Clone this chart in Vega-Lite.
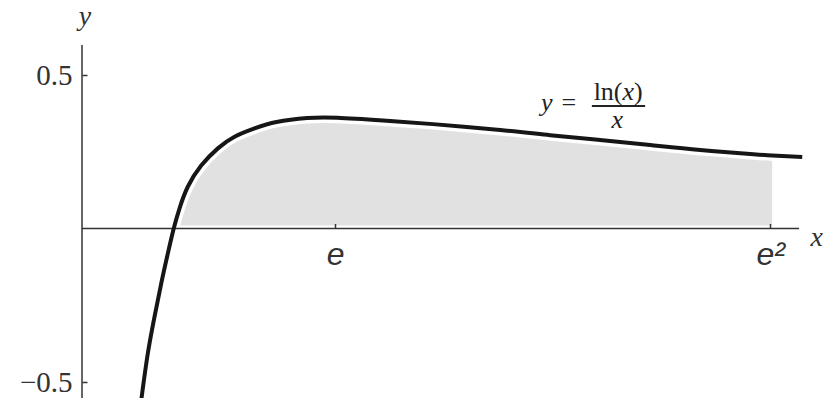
{
  "$schema": "https://vega.github.io/schema/vega-lite/v6.json",
  "width": 745,
  "height": 398,
  "autosize": {"type": "none"},
  "padding": {"left": 82, "top": 0, "right": 0, "bottom": 0},
  "background": "white",
  "config": {"view": {"stroke": null}, "axis": {"grid": false}},
  "datasets": {
    "curve": [
      {"x": 0.639, "y": -0.553},
      {"x": 0.707, "y": -0.4065},
      {"x": 0.779, "y": -0.287},
      {"x": 0.851, "y": -0.1785},
      {"x": 0.922, "y": -0.081},
      {"x": 0.985, "y": 0.0},
      {"x": 1.05, "y": 0.068},
      {"x": 1.136, "y": 0.136},
      {"x": 1.28, "y": 0.205},
      {"x": 1.459, "y": 0.261},
      {"x": 1.638, "y": 0.299},
      {"x": 1.853, "y": 0.326},
      {"x": 2.089, "y": 0.347},
      {"x": 2.417, "y": 0.36},
      {"x": 2.739, "y": 0.361},
      {"x": 3.233, "y": 0.352},
      {"x": 3.77, "y": 0.34},
      {"x": 4.49, "y": 0.321},
      {"x": 5.027, "y": 0.304},
      {"x": 5.564, "y": 0.288},
      {"x": 6.101, "y": 0.272},
      {"x": 6.638, "y": 0.256},
      {"x": 7.175, "y": 0.243},
      {"x": 7.411, "y": 0.238},
      {"x": 7.734, "y": 0.233}
    ],
    "axes": [
      {"x": 0, "x2": 0, "y": -0.56, "y2": 0.598},
      {"x": 0, "x2": 7.7, "y": 0, "y2": 0}
    ],
    "bar": [{"x": 5.475, "x2": 6.047, "y": 0.399}],
    "upright": [
      {"x": 5.494, "y": 0.4186, "text": "ln("},
      {"x": 5.928, "y": 0.4186, "text": ")"},
      {"x": 5.15, "y": 0.3827, "text": "="}
    ],
    "italic": [
      {"x": 4.93, "y": 0.3827, "text": "y"},
      {"x": 5.687, "y": 0.3264, "text": "x"},
      {"x": 5.805, "y": 0.4186, "text": "x"}
    ],
    "axislabels": [
      {"x": 0.0322, "y": 0.664, "text": "y"},
      {"x": 7.89, "y": -0.057, "text": "x"}
    ]
  },
  "encoding": {
    "x": {
      "field": "x", "type": "quantitative",
      "scale": {"domain": [0, 8], "nice": false, "zero": false},
      "axis": {
        "values": [2.71828, 7.38906],
        "labelExpr": "datum.value < 5 ? 'e' : 'e²'",
        "orient": "bottom", "offset": -169.5, "domain": false, "grid": false,
        "tickSize": -5, "tickWidth": 1.5, "tickColor": "#333",
        "labelPadding": 41, "labelBaseline": "alphabetic",
        "labelFont": "Liberation Sans", "labelFontStyle": "italic", "labelFontSize": 32,
        "labelColor": "#333", "labelFlush": false, "labelOverlap": false,
        "title": null, "zindex": 1
      }
    },
    "y": {
      "field": "y", "type": "quantitative",
      "scale": {"domain": [-0.5521, 0.7443], "nice": false, "zero": false},
      "axis": {
        "values": [-0.5, 0.5],
        "labelExpr": "datum.value > 0 ? '0.5' : '−0.5'",
        "domain": false, "grid": false,
        "tickSize": -5, "tickWidth": 1.5, "tickColor": "#333",
        "labelPadding": 15, "labelBaseline": "middle",
        "labelFont": "Liberation Serif", "labelFontSize": 29,
        "labelColor": "#333", "labelFlush": false, "labelOverlap": false,
        "title": null, "zindex": 1
      }
    }
  },
  "layer": [
    {
      "data": {"name": "curve"},
      "transform": [{"filter": "datum.x >= 0.97 && datum.x <= 7.42"}],
      "mark": {"type": "area", "color": "#e1e1e1", "interpolate": "natural"},
      "encoding": {"y2": {"datum": 0.01}}
    },
    {
      "data": {"name": "curve"},
      "mark": {"type": "line", "color": "white", "strokeWidth": 11, "interpolate": "natural"},
      "encoding": {}
    },
    {
      "data": {"name": "axes"},
      "mark": {"type": "rule", "color": "#333", "strokeWidth": 1.5},
      "encoding": {"x2": {"field": "x2"}, "y2": {"field": "y2"}}
    },
    {
      "data": {"name": "curve"},
      "mark": {"type": "line", "color": "#161616", "strokeWidth": 4, "interpolate": "natural"},
      "encoding": {}
    },
    {
      "data": {"name": "bar"},
      "mark": {"type": "rule", "color": "#222", "strokeWidth": 2},
      "encoding": {"x2": {"field": "x2"}}
    },
    {
      "data": {"name": "upright"},
      "mark": {"type": "text", "font": "Liberation Serif", "fontSize": 26, "color": "#222", "align": "left", "baseline": "alphabetic"},
      "encoding": {"text": {"field": "text"}}
    },
    {
      "data": {"name": "italic"},
      "mark": {"type": "text", "font": "Liberation Serif", "fontStyle": "italic", "fontSize": 26, "color": "#222", "align": "left", "baseline": "alphabetic"},
      "encoding": {"text": {"field": "text"}}
    },
    {
      "data": {"name": "axislabels"},
      "mark": {"type": "text", "font": "Liberation Serif", "fontStyle": "italic", "fontSize": 28, "color": "#333", "align": "center", "baseline": "alphabetic"},
      "encoding": {"text": {"field": "text"}}
    }
  ]
}
